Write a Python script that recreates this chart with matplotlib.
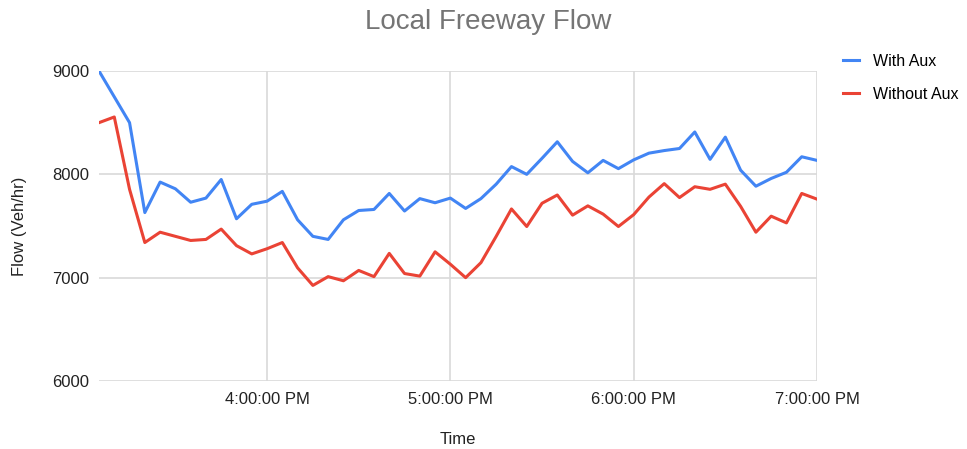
import matplotlib
matplotlib.use("Agg")
import matplotlib.pyplot as plt
import pandas as pd

# Five-minute intervals, 3:05 PM to 7:00 PM
times = pd.date_range("2020-01-01 15:05", "2020-01-01 19:00", freq="5min")

with_aux = [9000, 8750, 8500, 7630, 7925, 7860, 7730, 7770, 7950, 7570,
            7710, 7740, 7835, 7560, 7400, 7370, 7560, 7650, 7660, 7815,
            7645, 7765, 7725, 7770, 7670, 7765, 7905, 8075, 8000, 8155,
            8315, 8125, 8015, 8135, 8055, 8140, 8205, 8230, 8250, 8410,
            8145, 8360, 8040, 7885, 7960, 8020, 8170, 8135]

without_aux = [8500, 8555, 7855, 7340, 7440, 7400, 7360, 7370, 7470, 7310,
               7230, 7280, 7340, 7095, 6925, 7010, 6970, 7070, 7010, 7235,
               7040, 7015, 7250, 7130, 7000, 7145, 7400, 7665, 7495, 7720,
               7800, 7605, 7695, 7615, 7495, 7610, 7780, 7910, 7775, 7880,
               7855, 7905, 7690, 7440, 7595, 7530, 7815, 7760]

y_ticks = [6000, 7000, 8000, 9000]
x_ticks = pd.to_datetime(["2020-01-01 16:00", "2020-01-01 17:00",
                          "2020-01-01 18:00", "2020-01-01 19:00"])
x_tick_labels = ["4:00:00 PM", "5:00:00 PM", "6:00:00 PM", "7:00:00 PM"]

plt.rcParams["font.family"] = ["Liberation Sans", "DejaVu Sans"]

W, H = 967, 449
fig = plt.figure(figsize=(W / 100, H / 100), dpi=100)
ax = fig.add_axes([99 / W, 1 - 381 / H, (817 - 99) / W, (381 - 71) / H])

ax.plot(times, with_aux, color="#4285F4", lw=2.2, label="With Aux",
        solid_joinstyle="round", zorder=3)
ax.plot(times, without_aux, color="#EA4335", lw=2.2, label="Without Aux",
        solid_joinstyle="round", zorder=3)

ax.set_xlim(times[0], times[-1])
ax.set_ylim(6000, 9000)
ax.set_yticks(y_ticks)
ax.set_xticks(x_ticks)
ax.set_xticklabels(x_tick_labels)

ax.grid(True, color="#d9d9d9", lw=1.2)
ax.set_axisbelow(True)
for s in ax.spines.values():
    s.set_visible(False)
ax.tick_params(length=0, labelsize=12, colors="#222222", pad=7)
ax.tick_params(axis="x", pad=8)

ax.set_xlabel("Time", fontsize=12, color="#222222", labelpad=18)
ax.set_ylabel("Flow (Veh/hr)", fontsize=12, color="#222222", labelpad=18)

fig.text(488 / W, 1 - 22 / H, "Local Freeway Flow", ha="center", va="center",
         fontsize=20, color="#757575")

ax.legend(loc="upper left", bbox_to_anchor=(835 / W, 1 - 46 / H),
          bbox_transform=fig.transFigure, frameon=False, fontsize=11.5,
          handlelength=1.0, handletextpad=0.85, labelspacing=1.1,
          borderaxespad=0, borderpad=0.5)

fig.savefig("out.png", dpi=100, facecolor="white")
